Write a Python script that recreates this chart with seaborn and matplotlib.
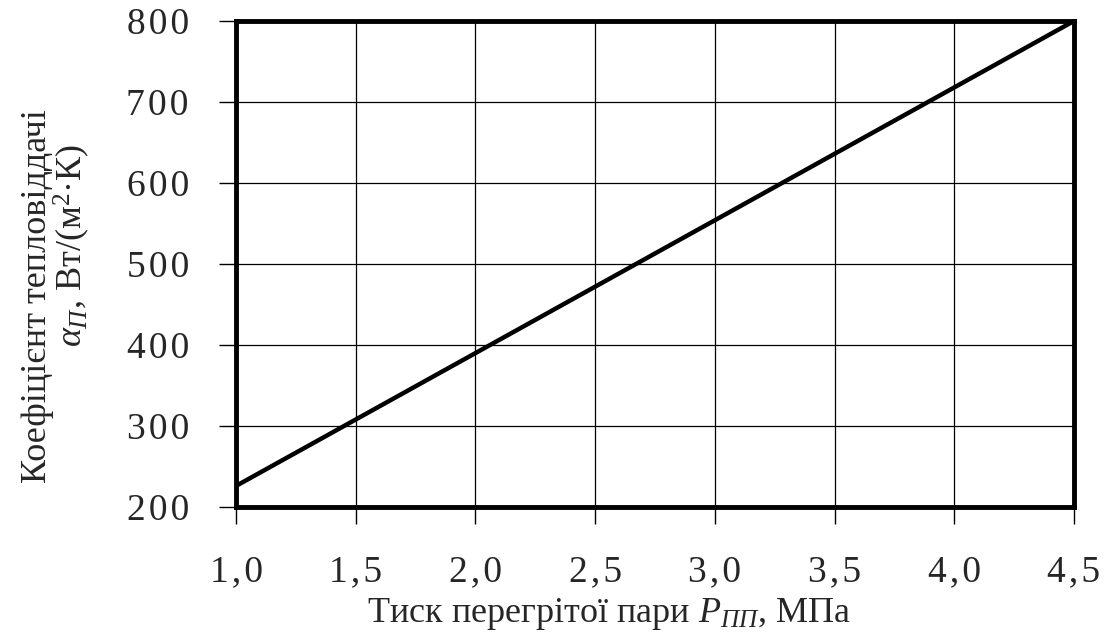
import matplotlib
matplotlib.use("Agg")
import matplotlib.pyplot as plt
import seaborn as sns
import pandas as pd

pressure = [1.0, 1.5, 2.0, 2.5, 3.0, 3.5, 4.0, 4.5]
alpha = [226, 308, 390, 472, 554, 636, 718, 800]
x_ticks = [1.0, 1.5, 2.0, 2.5, 3.0, 3.5, 4.0, 4.5]
x_labels = ["1,0", "1,5", "2,0", "2,5", "3,0", "3,5", "4,0", "4,5"]
y_ticks = [200, 300, 400, 500, 600, 700, 800]
y_labels = ["200", "300", "400", "500", "600", "700", "800"]

sns.set_style("white")
plt.rcParams["font.family"] = ["Liberation Serif", "DejaVu Serif"]
plt.rcParams["mathtext.fontset"] = "custom"
plt.rcParams["mathtext.rm"] = "Liberation Serif"
plt.rcParams["mathtext.it"] = "Liberation Serif:italic"

def spaced(s):
    return "\u200a".join(s)

df = pd.DataFrame({"p": pressure, "a": alpha})

fig = plt.figure(figsize=(11.09, 6.37), dpi=100)
ax = fig.add_axes([236/1109, 1-507/637, (1074-236)/1109, (507-21)/637])
sns.lineplot(data=df, x="p", y="a", ax=ax, color="black", linewidth=3.2)

ax.set_xlim(1.0, 4.5)
ax.set_ylim(200, 800)
ax.set_xticks(x_ticks)
ax.set_xticklabels([spaced(t) for t in x_labels], fontsize=27)
ax.set_yticks(y_ticks)
ax.set_yticklabels([spaced(t) for t in y_labels], fontsize=27)
ax.grid(True, color="black", linewidth=0.9)
ax.set_axisbelow(True)
for s in ax.spines.values():
    s.set_linewidth(3.5)
    s.set_color("black")
ax.tick_params(axis="both", direction="out", length=12, width=1, color="black",
               bottom=True, left=True)
ax.tick_params(axis="x", pad=22)
ax.tick_params(axis="y", pad=22)
ax.set_xlabel("")
ax.set_ylabel("")

fig.text(609/1109, 1-614/637, "Тиск перегрітої пари $P_{ПП}$, МПа", fontsize=26,
         ha="center", va="center")
fig.text(38/1109, 1-296/637, "Коефіцієнт тепловіддачі", fontsize=26,
         ha="center", va="center", rotation=90)
fig.text(72/1109, 1-245/637, "$\\alpha_{П}$, Вт/(м$^2$·К)", fontsize=26,
         ha="center", va="center", rotation=90)

fig.savefig("out.png", dpi=100)
